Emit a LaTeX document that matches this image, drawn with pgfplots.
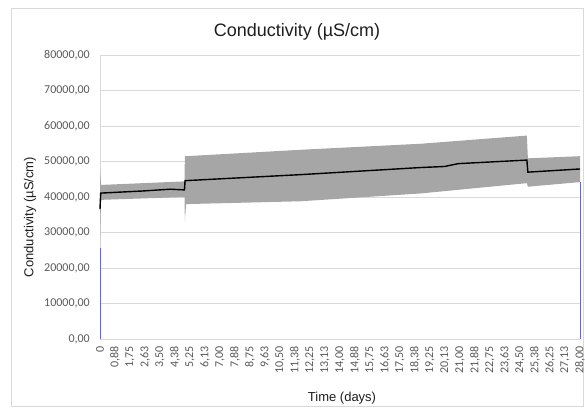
\documentclass[border=0pt]{standalone}
\usepackage{pgfplots}
\pgfplotsset{compat=1.18}
\usepackage{pgfplotstable}
\usepgfplotslibrary{fillbetween}
\usepackage{fontspec}
\setmainfont{Carlito}
\newfontfamily\arialfont{Liberation Sans}

\definecolor{gridgray}{HTML}{D9D9D9}
\definecolor{ticktext}{HTML}{595959}
\definecolor{bandgray}{HTML}{A6A6A6}
\definecolor{edgeblue}{RGB}{100,100,230}
\definecolor{titletext}{RGB}{30,30,30}

% band limits
\pgfplotstableread{
day   lower  upper
0     25600  48200
0.06  39200  43400
4.93  40000  44400
4.95  33000  51500
5.02  38000  51500
11.7  38800  53300
18.7  41000  55000
24.90 43900  57300
24.96 42900  50900
28    44200  51500
}\bandtable

% mean line
\pgfplotstableread{
day   mean
0     36600
0.04  41100
2.5   41700
4.10  42200
4.93  42000
4.96  44600
11.7  46300
18.7  48300
20.1  48600
20.9  49400
24.90 50400
24.96 47000
28    47900
}\meantable

\begin{document}
\begin{tikzpicture}
\draw[gridgray, line width=0.8pt] (-89pt,-67pt) rectangle (483pt,331pt);

\begin{axis}[
    at={(0pt,0pt)}, anchor=south west,
    scale only axis, width=480pt, height=284pt,
    xmin=0, xmax=28, ymin=0, ymax=80000,
    axis lines=left, axis line style={gridgray, line width=0.8pt, -},
    ymajorgrids, grid style={gridgray, line width=0.8pt},
    major tick length=0pt,
    scaled y ticks=false,
    ytick={0,10000,20000,30000,40000,50000,60000,70000,80000},
    yticklabels={{0,00},{10000,00},{20000,00},{30000,00},{40000,00},{50000,00},{60000,00},{70000,00},{80000,00}},
    xtick={0,0.875,1.75,2.625,3.5,4.375,5.25,6.125,7,7.875,8.75,9.625,10.5,11.375,12.25,13.125,14,14.875,15.75,16.625,17.5,18.375,19.25,20.125,21,21.875,22.75,23.625,24.5,25.375,26.25,27.125,28},
    xticklabels={0,{0,88},{1,75},{2,63},{3,50},{4,38},{5,25},{6,13},{7,00},{7,88},{8,75},{9,63},{10,50},{11,38},{12,25},{13,13},{14,00},{14,88},{15,75},{16,63},{17,50},{18,38},{19,25},{20,13},{21,00},{21,88},{22,75},{23,63},{24,50},{25,38},{26,25},{27,13},{28,00}},
    xticklabel style={rotate=90, anchor=east, font=\fontsize{12}{12}\selectfont, text=ticktext, inner sep=0pt, xshift=-7pt},
    yticklabel style={font=\fontsize{12}{12}\selectfont, text=ticktext, inner sep=0pt, xshift=-10pt},
    clip=false,
]
\addplot[name path=U, draw=none, forget plot] table[x=day, y=upper] {\bandtable};
\addplot[name path=L, draw=none, forget plot] table[x=day, y=lower] {\bandtable};
\addplot[bandgray, draw=none] fill between[of=U and L];
\addplot[black, line width=1.4pt] table[x=day, y=mean] {\meantable};
\addplot[edgeblue, line width=0.9pt] coordinates {(0,0) (0,25600)};
\addplot[edgeblue, line width=0.9pt] coordinates {(28,0) (28,44200)};
\end{axis}

\node[font=\arialfont\fontsize{18}{20}\selectfont, text=titletext] at (197pt,307pt) {Conductivity (µS/cm)};
\node[font=\arialfont\fontsize{13}{15}\selectfont, text=titletext] at (242pt,-59pt) {Time (days)};
\node[font=\arialfont\fontsize{13}{15}\selectfont, text=titletext, rotate=90] at (-70pt,122pt) {Conductivity (µS/cm)};
\path (-100pt,-69pt) rectangle (485pt,339pt);
\end{tikzpicture}
\end{document}
